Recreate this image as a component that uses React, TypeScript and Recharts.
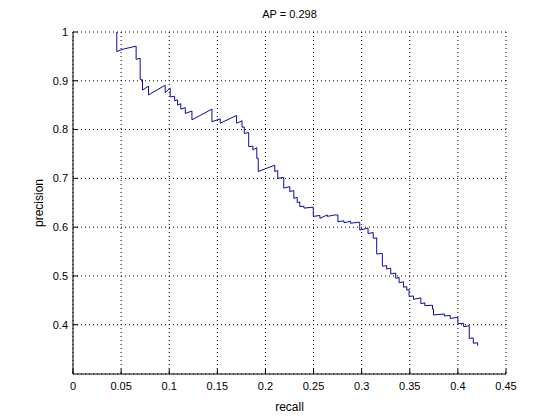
import { CartesianGrid, Line, LineChart, XAxis, YAxis } from 'recharts';

const recall = [
  0.0455, 0.0455, 0.0524, 0.0656, 0.0656, 0.0698, 0.0698, 0.0722, 0.0722,
  0.0785, 0.0785, 0.0958, 0.0958, 0.101, 0.101, 0.1056, 0.1056, 0.1087,
  0.1087, 0.112, 0.112, 0.1167, 0.1167, 0.1236, 0.1236, 0.1444, 0.1444,
  0.153, 0.153, 0.17, 0.17, 0.1757, 0.1757, 0.178, 0.178, 0.1826, 0.1826,
  0.187, 0.187, 0.191, 0.191, 0.1925, 0.1925, 0.2097, 0.2097, 0.2128,
  0.2128, 0.219, 0.219, 0.2253, 0.2253, 0.2295, 0.2295, 0.233, 0.233,
  0.2357, 0.2357, 0.24, 0.24, 0.2497, 0.2497, 0.2566, 0.2566, 0.2643,
  0.2643, 0.272, 0.2753, 0.2753, 0.2816, 0.2816, 0.2885, 0.2885, 0.296,
  0.298, 0.298, 0.3066, 0.3066, 0.312, 0.312, 0.3156, 0.3156, 0.3215,
  0.3215, 0.326, 0.326, 0.3302, 0.3302, 0.3354, 0.3354, 0.3389, 0.3389,
  0.3434, 0.3434, 0.3469, 0.3469, 0.3493, 0.3493, 0.3538, 0.3538, 0.3615,
  0.3615, 0.3656, 0.3656, 0.3736, 0.3736, 0.3747, 0.3747, 0.386, 0.386,
  0.392, 0.392, 0.4, 0.4, 0.406, 0.406, 0.4118, 0.4118, 0.416, 0.416,
  0.4205, 0.4205,
];

const precision = [
  1.0, 0.96, 0.965, 0.971, 0.944, 0.946, 0.903, 0.902, 0.881,
  0.889, 0.871, 0.891, 0.876, 0.885, 0.867, 0.868, 0.859, 0.861,
  0.85, 0.853, 0.842, 0.845, 0.833, 0.838, 0.82, 0.842, 0.816,
  0.822, 0.813, 0.829, 0.813, 0.818, 0.805, 0.805, 0.792, 0.794, 0.765,
  0.766, 0.758, 0.763, 0.741, 0.741, 0.714, 0.727, 0.714, 0.716,
  0.7, 0.702, 0.68, 0.683, 0.673, 0.675, 0.659, 0.661, 0.65,
  0.652, 0.642, 0.643, 0.639, 0.641, 0.622, 0.624, 0.618, 0.625,
  0.622, 0.625, 0.625, 0.611, 0.613, 0.609, 0.612, 0.608, 0.61,
  0.61, 0.594, 0.598, 0.587, 0.589, 0.577, 0.578, 0.545, 0.546,
  0.52, 0.521, 0.514, 0.516, 0.504, 0.506, 0.495, 0.497, 0.486,
  0.488, 0.477, 0.478, 0.471, 0.472, 0.458, 0.459, 0.452, 0.455,
  0.443, 0.445, 0.439, 0.44, 0.432, 0.432, 0.42, 0.422, 0.418,
  0.419, 0.413, 0.415, 0.402, 0.403, 0.396, 0.398, 0.372, 0.373, 0.362,
  0.363, 0.357,
];

const xTicks = [0, 0.05, 0.1, 0.15, 0.2, 0.25, 0.3, 0.35, 0.4, 0.45];
const yTicks = [0.4, 0.5, 0.6, 0.7, 0.8, 0.9, 1];
const titulo = 'AP = 0.298';
const rotuloX = 'recall';
const rotuloY = 'precision';

const dados = recall.map((r, i) => ({ recall: r, precision: precision[i] }));

const familia = '"Liberation Sans", Arial, Helvetica, sans-serif';
const fonte = { fontFamily: familia, fontSize: 11, fill: '#000' };
const semTexto = () => <g />;

const App = () => {
  return (
    <div
      style={{
        position: 'absolute',
        left: 0,
        top: 0,
        width: 560,
        height: 420,
        background: '#fff',
      }}
    >
      <div
        style={{
          position: 'absolute',
          left: 73,
          top: 8,
          width: 433,
          textAlign: 'center',
          fontFamily: familia,
          fontSize: 11,
          lineHeight: '13px',
          color: '#000',
        }}
      >
        {titulo}
      </div>
      <LineChart
        width={560}
        height={420}
        data={dados}
        margin={{ top: 32, right: 54, bottom: 0, left: 0 }}
      >
        <CartesianGrid
          xAxisId="b"
          yAxisId="l"
          stroke="#000"
          strokeDasharray="1 3"
        />
        <XAxis
          xAxisId="b"
          type="number"
          dataKey="recall"
          domain={[0, 0.45]}
          ticks={xTicks}
          height={46}
          tickSize={-5}
          tickMargin={13}
          tick={fonte}
          stroke="#000"
          label={{
            value: rotuloX,
            position: 'insideBottom',
            offset: 9,
            fontSize: 12,
            fontFamily: familia,
            fill: '#000',
          }}
        />
        <XAxis
          xAxisId="t"
          orientation="top"
          type="number"
          dataKey="recall"
          domain={[0, 0.45]}
          ticks={xTicks}
          height={0}
          tickSize={-5}
          tick={semTexto}
          stroke="#000"
        />
        <YAxis
          yAxisId="l"
          type="number"
          domain={[0.299, 1]}
          ticks={yTicks}
          width={73}
          tickSize={-5}
          tickMargin={10}
          tick={fonte}
          stroke="#000"
          label={{
            value: rotuloY,
            angle: -90,
            position: 'insideLeft',
            offset: 39,
            fontSize: 12,
            fontFamily: familia,
            fill: '#000',
            style: { textAnchor: 'middle' },
          }}
        />
        <YAxis
          yAxisId="r"
          orientation="right"
          type="number"
          domain={[0.299, 1]}
          ticks={yTicks}
          width={0}
          tickSize={-5}
          tick={semTexto}
          stroke="#000"
        />
        <Line
          xAxisId="b"
          yAxisId="l"
          type="linear"
          dataKey="precision"
          stroke="#0a0aaa"
          strokeWidth={1}
          dot={false}
          isAnimationActive={false}
        />
      </LineChart>
    </div>
  );
};

export default App;
